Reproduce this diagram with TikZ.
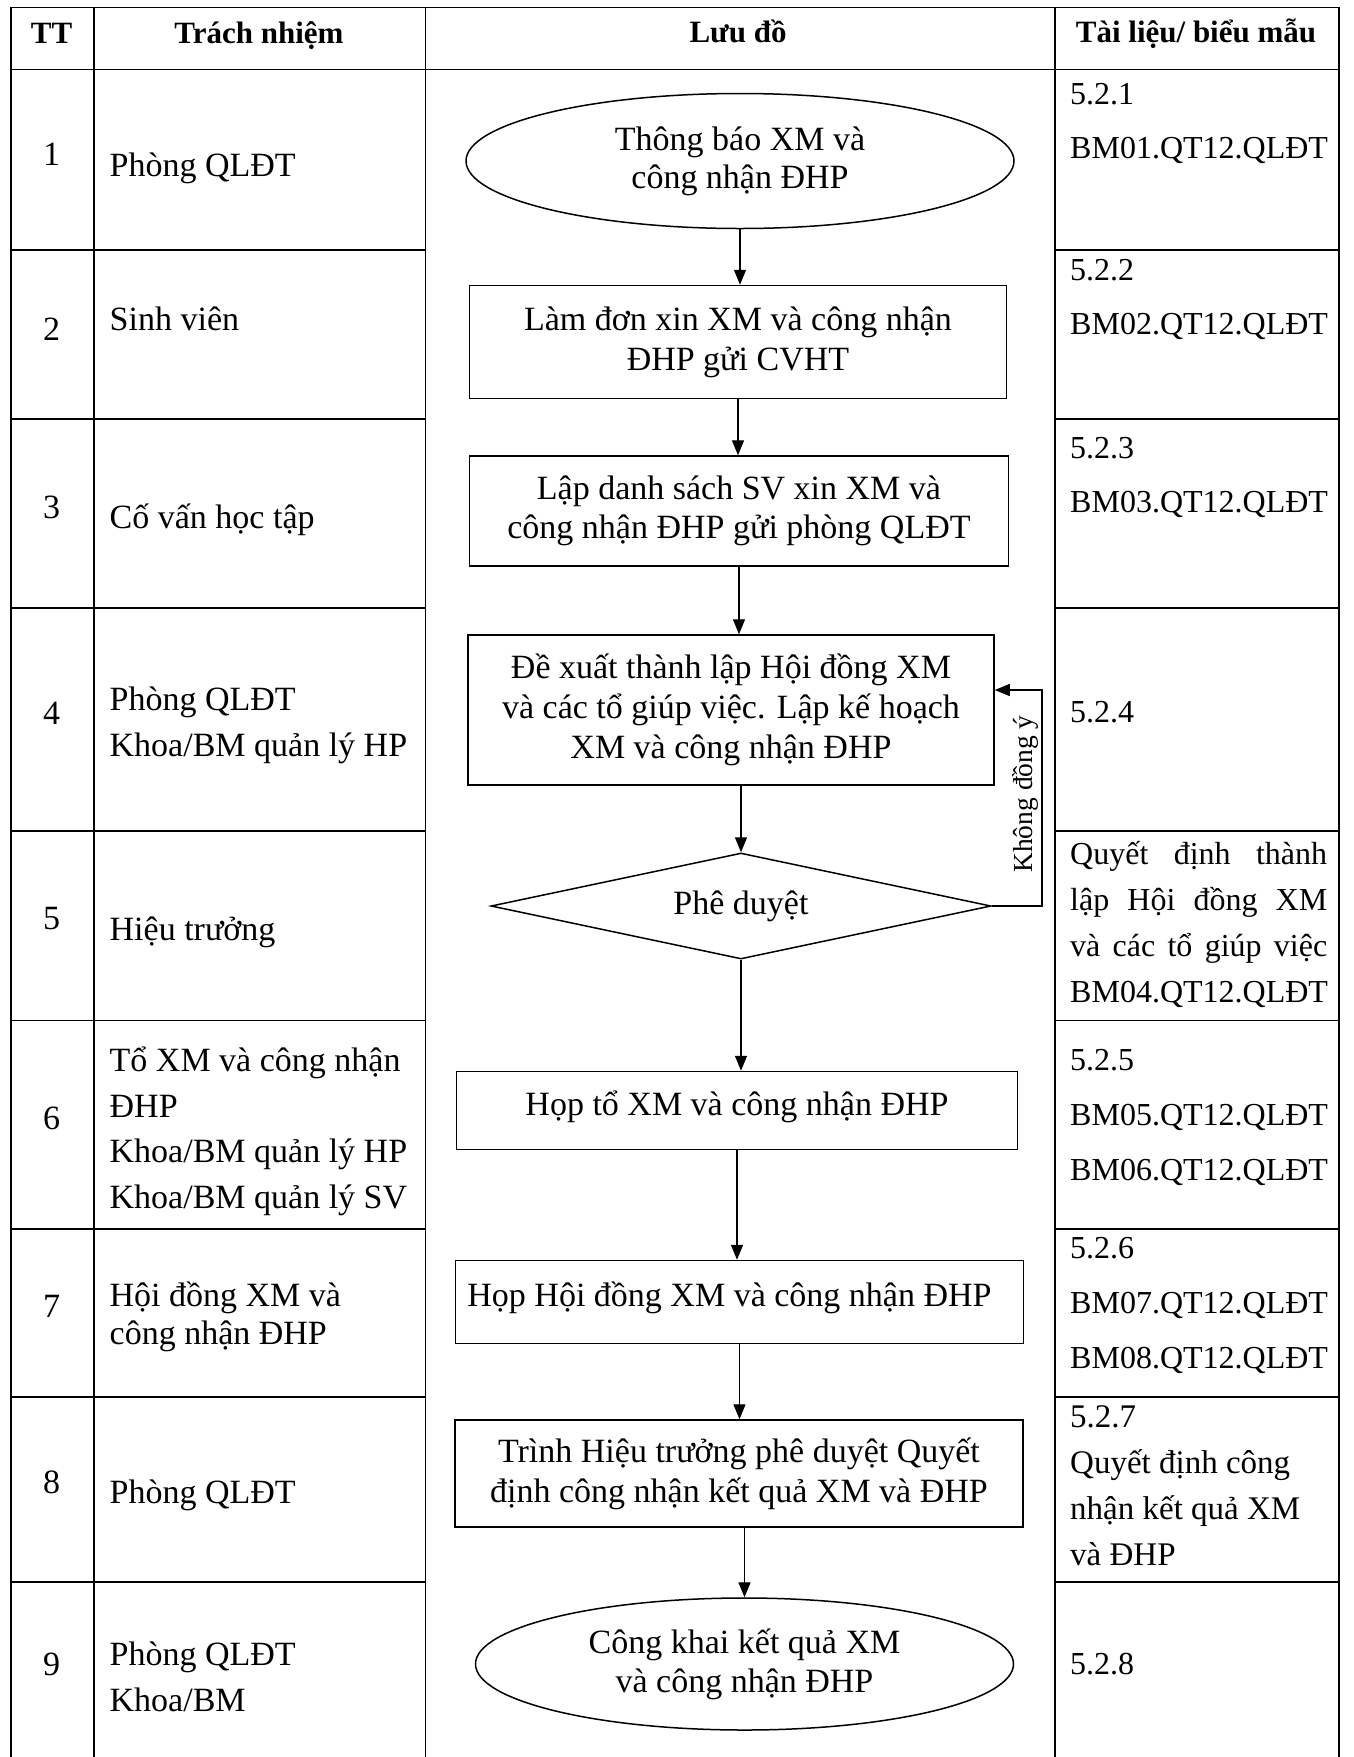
\documentclass[tikz,border=0pt]{standalone}
\usepackage{fontspec}
\setmainfont{Liberation Serif}
\usetikzlibrary{shapes.geometric,arrows.meta}
\begin{document}
\begin{tikzpicture}[x=1pt,y=-1pt,
  grid/.style={line width=1.8pt,line cap=rect},
  shp/.style={draw,line width=1.5pt,inner sep=0pt,align=center,font=\fontsize{34}{40}\selectfont},
  rbox/.style={shp,rectangle},
  obox/.style={shp,ellipse},
  flow/.style={line width=1.4pt,-{Triangle[length=15pt,width=12pt]}},
  ltxt/.style={inner sep=0pt,anchor=west,align=left,font=\fontsize{34}{45.5}\selectfont},
  rtxt/.style={inner sep=0pt,anchor=west,align=left,font=\fontsize{32}{54}\selectfont},
  head/.style={inner sep=0pt,anchor=base,font=\fontsize{31}{37}\selectfont\bfseries},
  num/.style={inner sep=0pt,font=\fontsize{34}{40}\selectfont}
]
\useasboundingbox (0,0) rectangle (1354,1757);
\fill[white] (0,0) rectangle (1354,1757);

% table grid
\draw[grid] (11,7.5) -- (1339,7.5);
\draw[grid] (11,69.5) -- (1339,69.5);
\foreach \x in {11,94,425.5,1055,1339} \draw[grid] (\x,7.5) -- (\x,1757);
\foreach \y in {250.3,418.7,608,830.6,1020.5,1228.7,1396.6,1582} {
  \draw[grid] (11,\y) -- (425.5,\y);
  \draw[grid] (1055,\y) -- (1339,\y);
}

% header
\node[head] (h1) at (51.5,43) {TT};
\node[head] (h2) at (259,43) {Trách nhiệm};
\node[head] (h3) at (738,42) {Lưu đồ};
\node[head] (h4) at (1196,42) {Tài liệu/ biểu mẫu};

% TT column
\node[num] (n1) at (51.5,154.5) {1};
\node[num] (n2) at (51.5,329.5) {2};
\node[num] (n3) at (51.5,507.5) {3};
\node[num] (n4) at (51.5,713) {4};
\node[num] (n5) at (51.5,919) {5};
\node[num] (n6) at (51.5,1118) {6};
\node[num] (n7) at (51.5,1306) {7};
\node[num] (n8) at (51.5,1482) {8};
\node[num] (n9) at (51.5,1664) {9};

% responsibility column
\node[ltxt] (l1) at (109.5,168) {Phòng QLĐT};
\node[ltxt] (l2) at (109.5,319) {Sinh viên};
\node[ltxt] (l3) at (109.5,520) {Cố vấn học tập};
\node[ltxt] (l4) at (109.5,725.5) {Phòng QLĐT\\Khoa/BM quản lý HP};
\node[ltxt] (l5) at (109.5,932) {Hiệu trưởng};
\node[ltxt] (l6) at (109.5,1131.5) {Tổ XM và công nhận\\ĐHP\\Khoa/BM quản lý HP\\Khoa/BM quản lý SV};
\node[ltxt,font=\fontsize{34}{38.5}\selectfont] (l7) at (109.5,1317) {Hội đồng XM và\\công nhận ĐHP};
\node[ltxt] (l8) at (109.5,1495) {Phòng QLĐT};
\node[ltxt,font=\fontsize{34}{46.5}\selectfont] (l9) at (109.5,1677) {Phòng QLĐT\\Khoa/BM};

% documents column
\node[rtxt] (d1) at (1070,123) {5.2.1\\BM01.QT12.QLĐT};
\node[rtxt] (d2) at (1070,299) {5.2.2\\BM02.QT12.QLĐT};
\node[rtxt] (d3) at (1070,477.5) {5.2.3\\BM03.QT12.QLĐT};
\node[rtxt] (d4) at (1070,712) {5.2.4};
\node[rtxt,font=\fontsize{32}{45.7}\selectfont] (d5) at (1070,924.5)
  {\makebox[257pt][s]{Quyết định thành}\\\makebox[257pt][s]{lập Hội đồng XM}\\\makebox[257pt][s]{và các tổ giúp việc}\\BM04.QT12.QLĐT};
\node[rtxt,font=\fontsize{32}{55}\selectfont] (d6) at (1070,1117.3) {5.2.5\\BM05.QT12.QLĐT\\BM06.QT12.QLĐT};
\node[rtxt,font=\fontsize{32}{55}\selectfont] (d7) at (1070,1305) {5.2.6\\BM07.QT12.QLĐT\\BM08.QT12.QLĐT};
\node[rtxt,font=\fontsize{33}{46}\selectfont] (d8) at (1070,1486) {5.2.7\\Quyết định công\\nhận kết quả XM\\và ĐHP};
\node[rtxt] (d9) at (1070,1664.5) {5.2.8};

% flowchart
\node[obox,minimum width=548pt,minimum height=135pt,font=\fontsize{34}{38}\selectfont] (e1) at (740,161) {Thông báo XM và\\công nhận ĐHP};
\node[rbox,minimum width=537pt,minimum height=113pt] (b2) at (738,342) {Làm đơn xin XM và công nhận\\ĐHP gửi CVHT};
\node[rbox,minimum width=539pt,minimum height=110pt,font=\fontsize{34}{39}\selectfont] (b3) at (739,511) {Lập danh sách SV xin XM và\\công nhận ĐHP gửi phòng QLĐT};
\node[rbox,minimum width=526pt,minimum height=150pt] (b4) at (731,710) {Đề xuất thành lập Hội đồng XM\\và các tổ giúp việc. Lập kế hoạch\\XM và công nhận ĐHP};
\node[shp,diamond,aspect=4.7,minimum width=500pt,minimum height=106pt] (dia) at (741,906) {Phê duyệt};
\node[rbox,minimum width=561pt,minimum height=78pt,text depth=15pt] (b6) at (737,1110.5) {Họp tổ XM và công nhận ĐHP};
\node[rbox,minimum width=568pt,minimum height=83pt,text depth=15pt] (b7) at (739.5,1302) {Họp Hội đồng XM và công nhận ĐHP\hspace*{20pt}};
\node[rbox,minimum width=568pt,minimum height=107pt] (b8) at (739,1473.5) {Trình Hiệu trưởng phê duyệt Quyết\\định công nhận kết quả XM và ĐHP};
\node[obox,minimum width=538pt,minimum height=132pt,font=\fontsize{34}{39}\selectfont] (e9) at (744.5,1664) {Công khai kết quả XM\\và công nhận ĐHP};

\draw[flow] (e1.south) -- (e1.south |- b2.north);
\draw[flow] (b2.south) -- (b2.south |- b3.north);
\draw[flow] (b3.south) -- (b3.south |- b4.north);
\draw[flow] (b4.south -| dia.north) -- (dia.north);
\draw[flow] (dia.south) -- (dia.south |- b6.north);
\draw[flow] (b6.south) -- (b6.south |- b7.north);
\draw[flow] (b7.south) -- (b7.south |- b8.north);
\draw[flow] (b8.south -| e9.north) -- (e9.north);

\coordinate (fb) at (1042,690);
\draw[flow] (dia.east) -| (fb) -- (fb -| b4.east);
\node[rotate=90,inner sep=0pt,font=\fontsize{27.5}{33}\selectfont] (lbl) at (1025,794) {Không đồng ý};
\end{tikzpicture}
\end{document}
